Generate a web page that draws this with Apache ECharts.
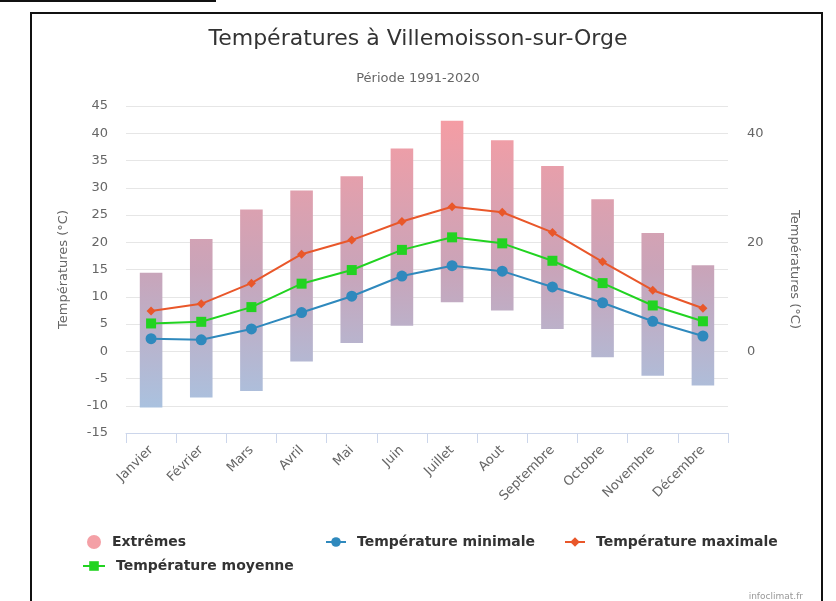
<!DOCTYPE html>
<html>
<head>
    <meta charset="utf-8">
    <title>Températures à Villemoisson-sur-Orge</title>
    <script src="https://cdn.jsdelivr.net/npm/echarts@6/dist/echarts.min.js"></script>
    <style>
        html, body { margin: 0; padding: 0; background: #fff; }
        #main { position: absolute; left: 0; top: 0; width: 836px; height: 601px; }
        .cadre { position: absolute; left: 30px; top: 12px; width: 789px; height: 600px; border: 2px solid #111; }
        .trait { position: absolute; left: 0; top: 0; width: 216px; height: 2px; background: #111; }
    </style>
</head>
<body>
<div class="trait"></div>
<div class="cadre"></div>
<div id="main"></div>
<script>
    // mois
    var months = ['Janvier', 'Février', 'Mars', 'Avril', 'Mai', 'Juin', 'Juillet', 'Aout', 'Septembre', 'Octobre', 'Novembre', 'Décembre'];
    // extrêmes (bas / haut)
    var extremeLow = [-10.3, -8.5, -7.3, -1.9, 1.5, 4.7, 9.0, 7.5, 4.1, -1.1, -4.5, -6.3];
    var extremeHigh = [14.4, 20.6, 26.0, 29.5, 32.1, 37.2, 42.3, 38.7, 34.0, 27.9, 21.7, 15.8];
    // températures mensuelles
    var tMin = [2.3, 2.1, 4.1, 7.1, 10.1, 13.8, 15.7, 14.7, 11.8, 8.9, 5.5, 2.8];
    var tMoy = [5.1, 5.4, 8.1, 12.4, 14.9, 18.6, 20.9, 19.8, 16.6, 12.5, 8.4, 5.5];
    var tMax = [7.4, 8.7, 12.5, 17.8, 20.4, 23.8, 26.5, 25.5, 21.8, 16.4, 11.2, 7.9];
    // axes
    var yMin = -15, yMax = 45, yStep = 5;
    var rightLabels = [0, 20, 40];

    var police = 'DejaVu Sans';

    var rangeData = [];
    for (var i = 0; i < months.length; i++) {
        rangeData.push([i, extremeLow[i], extremeHigh[i]]);
    }

    function renderRange(params, api) {
        var bas = api.coord([api.value(0), api.value(1)]);
        var haut = api.coord([api.value(0), api.value(2)]);
        var w = api.size([1, 0])[0] * 0.45;
        var yTop = api.coord([0, yMax])[1];
        var yBot = api.coord([0, yMin])[1];
        return {
            type: 'rect',
            shape: { x: bas[0] - w / 2, y: haut[1], width: w, height: bas[1] - haut[1] },
            style: {
                fill: new echarts.graphic.LinearGradient(0, yTop, 0, yBot, [
                    { offset: 0, color: '#f99ca2' },
                    { offset: 0.5, color: '#c9a4b9' },
                    { offset: 1, color: '#a4c7e6' }
                ], true)
            }
        };
    }

    function legende(nom, left, top, icon, w, h) {
        return {
            data: [{ name: nom, icon: icon }],
            left: left,
            top: top,
            padding: 0,
            itemWidth: w,
            itemHeight: h,
            selectedMode: false,
            textStyle: { fontFamily: police, fontSize: 14, fontWeight: 'bold', color: '#333', padding: [0, 0, 0, 6] }
        };
    }

    var myChart = echarts.init(document.getElementById('main'));

    var option = {
        animation: false,
        title: [
            {
                text: 'Températures à Villemoisson-sur-Orge',
                left: 'center',
                top: 23,
                textStyle: { fontFamily: police, fontSize: 22, fontWeight: 'normal', color: '#333' }
            },
            {
                text: 'Période 1991-2020',
                left: 'center',
                top: 67,
                textStyle: { fontFamily: police, fontSize: 13, fontWeight: 'normal', color: '#666' }
            },
            {
                text: 'infoclimat.fr',
                right: 28,
                top: 587,
                textStyle: { fontFamily: police, fontSize: 9, fontWeight: 'normal', color: '#999' }
            }
        ],
        legend: [
            legende('Extrêmes', 87, 535, 'circle', 14, 14),
            legende('Température minimale', 325, 535, null, 20, 12),
            legende('Température maximale', 564, 535, null, 20, 12),
            legende('Température moyenne', 82, 559, null, 22, 12)
        ],
        grid: { left: 126, right: 108, top: 106, bottom: 168 },
        xAxis: {
            type: 'category',
            data: months,
            boundaryGap: true,
            axisLine: { onZero: false, lineStyle: { color: '#ccd6eb', width: 1 } },
            axisTick: { show: true, length: 10, lineStyle: { color: '#ccd6eb' } },
            axisLabel: { rotate: 45, margin: 15, fontFamily: police, fontSize: 13, color: '#666' },
            splitLine: { show: false }
        },
        yAxis: [
            {
                type: 'value',
                min: yMin,
                max: yMax,
                interval: yStep,
                name: 'Températures (°C)',
                nameLocation: 'middle',
                nameRotate: 90,
                nameGap: 56,
                nameTextStyle: { fontFamily: police, fontSize: 13, color: '#666' },
                axisLine: { show: false },
                axisTick: { show: false },
                axisLabel: { margin: 18, fontFamily: police, fontSize: 13, color: '#666' },
                splitLine: { lineStyle: { color: '#e6e6e6', width: 1 } }
            },
            {
                type: 'value',
                position: 'right',
                min: yMin,
                max: yMax,
                interval: yStep,
                name: 'Températures (°C)',
                nameLocation: 'middle',
                nameRotate: -90,
                nameGap: 60,
                nameTextStyle: { fontFamily: police, fontSize: 13, color: '#666' },
                axisLine: { show: false },
                axisTick: { show: false },
                axisLabel: {
                    margin: 19,
                    fontFamily: police,
                    fontSize: 13,
                    color: '#666',
                    formatter: function (v) {
                        return rightLabels.indexOf(v) >= 0 ? String(v) : '';
                    }
                },
                splitLine: { show: false }
            }
        ],
        series: [
            {
                name: 'Extrêmes',
                type: 'custom',
                renderItem: renderRange,
                itemStyle: { color: '#f4a0a6' },
                encode: { x: 0, y: [1, 2] },
                data: rangeData,
                z: 1
            },
            {
                name: 'Température minimale',
                type: 'line',
                data: tMin,
                symbol: 'circle',
                symbolSize: 11,
                itemStyle: { color: '#2f89bd' },
                lineStyle: { width: 2, color: '#2f89bd' },
                z: 3
            },
            {
                name: 'Température maximale',
                type: 'line',
                data: tMax,
                symbol: 'diamond',
                symbolSize: 9,
                itemStyle: { color: '#e9572a' },
                lineStyle: { width: 2, color: '#e9572a' },
                z: 3
            },
            {
                name: 'Température moyenne',
                type: 'line',
                data: tMoy,
                symbol: 'rect',
                symbolSize: 10,
                itemStyle: { color: '#22d321' },
                lineStyle: { width: 2, color: '#22d321' },
                z: 3
            }
        ]
    };

    myChart.setOption(option);
</script>
</body>
</html>
